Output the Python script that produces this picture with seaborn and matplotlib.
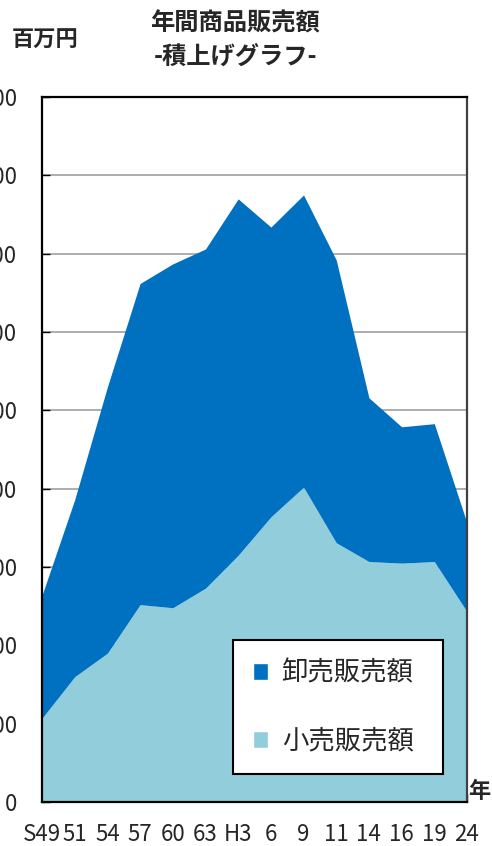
"""
年間商品販売額 積上げグラフ（卸売・小売）
"""

import numpy as np
import matplotlib
matplotlib.use('Agg')
import matplotlib.pyplot as plt
from matplotlib.patches import Patch
import seaborn as sns

# データ（百万円）
years = ['S49', '51', '54', '57', '60', '63', 'H3', '6', '9', '11', '14', '16', '19', '24']
total_sales = [264, 386, 530, 662, 687, 706, 770, 734, 775, 692, 516, 479, 483, 356]
retail_sales = [107, 160, 190, 252, 248, 273, 315, 364, 402, 331, 307, 305, 307, 243]
wholesale_sales = [t - r for t, r in zip(total_sales, retail_sales)]
y_ticks = [0, 100, 200, 300, 400, 500, 600, 700, 800, 900]

sns.set_theme(style='white')
plt.rcParams['font.family'] = ['Noto Sans CJK JP', 'DejaVu Sans']

colors = ['#92CDDC', '#0070C0']

fig = plt.figure(figsize=(4.92, 8.46), dpi=100)
ax = fig.add_axes([0.0854, 0.052, 0.8638, 0.8333])

x = np.arange(len(years))
ax.stackplot(x, retail_sales, wholesale_sales, colors=colors, linewidth=0)

# 目盛線
for v in y_ticks[1:]:
    ax.axhline(v, color='#a0a0a0', linewidth=1.2, zorder=0)

ax.set_xlim(0, len(years) - 1)
ax.set_ylim(0, 900)
ax.set_xticks(x)
ax.set_xticklabels(years, fontsize=16)
ax.set_yticks(y_ticks)
ax.set_yticklabels([str(v) for v in y_ticks], fontsize=16)
ax.tick_params(axis='x', direction='in', length=6, width=1, color='black', pad=15, bottom=True)
ax.tick_params(axis='y', direction='in', length=6, width=1, color='black', pad=18, left=True)

for side in ['left', 'bottom', 'top']:
    ax.spines[side].set_color('black')
    ax.spines[side].set_linewidth(1.6)
ax.spines['right'].set_color('#404040')
ax.spines['right'].set_linewidth(1.6)

# 凡例
handles = [Patch(facecolor=colors[1], label='卸売販売額'),
           Patch(facecolor=colors[0], label='小売販売額')]
leg = ax.legend(handles=handles, loc='center', bbox_to_anchor=(0.449, 0.038, 0.494, 0.193),
                mode='expand', fontsize=19, frameon=True, fancybox=False, framealpha=1,
                handlelength=0.6, handleheight=0.6, handletextpad=0.5,
                labelspacing=1.55, borderpad=0.75, borderaxespad=0)
leg.get_frame().set_edgecolor('black')
leg.get_frame().set_linewidth(1.5)

# タイトル等
fig.text(0.478, 0.972, '年間商品販売額', ha='center', va='center', fontsize=17.5, fontweight='bold')
fig.text(0.478, 0.933, '-積上げグラフ-', ha='center', va='center', fontsize=17.5, fontweight='bold')
fig.text(0.092, 0.952, '百万円', ha='center', va='center', fontsize=16, fontweight='bold')
fig.text(0.975, 0.064, '年', ha='center', va='center', fontsize=16, fontweight='bold')

fig.savefig('out.png', dpi=100)
